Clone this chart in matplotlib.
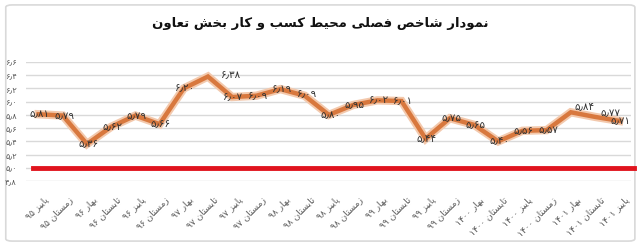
import matplotlib
matplotlib.use('Agg')
import matplotlib.pyplot as plt
from matplotlib.patches import FancyBboxPatch
from matplotlib.transforms import ScaledTranslation


TITLE = 'نمودار شاخص فصلی محیط کسب و کار بخش تعاون'
SEASONS = [
    'پاییز ۹۵', 'زمستان ۹۵', 'بهار ۹۶', 'تابستان ۹۶', 'پاییز ۹۶',
    'زمستان ۹۶', 'بهار ۹۷', 'تابستان ۹۷', 'پاییز ۹۷', 'زمستان ۹۷',
    'بهار ۹۸', 'تابستان ۹۸', 'پاییز ۹۸', 'زمستان ۹۸', 'بهار ۹۹',
    'تابستان ۹۹', 'پاییز ۹۹', 'زمستان ۹۹', 'بهار ۱۴۰۰', 'تابستان ۱۴۰۰',
    'پاییز ۱۴۰۰', 'زمستان ۱۴۰۰', 'بهار ۱۴۰۱', 'تابستان ۱۴۰۱', 'پاییز ۱۴۰۱',
]
INDEX = [
    5.81, 5.79, 5.36, 5.62, 5.79, 5.66, 6.20, 6.38, 6.07, 6.09,
    6.19, 6.09, 5.80, 5.95, 6.02, 6.01, 5.44, 5.75, 5.65, 5.40,
    5.56, 5.57, 5.84, 5.77, 5.71,
]
THRESHOLD = 5.0
Y_TICKS = [4.8, 5.0, 5.2, 5.4, 5.6, 5.8, 6.0, 6.2, 6.4, 6.6]

# (isolated, final, initial, medial) presentation forms
FORMS = {
    'ا': ('\uFE8D', '\uFE8E', None, None),
    'ب': ('\uFE8F', '\uFE90', '\uFE91', '\uFE92'),
    'پ': ('\uFB56', '\uFB57', '\uFB58', '\uFB59'),
    'ت': ('\uFE95', '\uFE96', '\uFE97', '\uFE98'),
    'ح': ('\uFEA1', '\uFEA2', '\uFEA3', '\uFEA4'),
    'خ': ('\uFEA5', '\uFEA6', '\uFEA7', '\uFEA8'),
    'د': ('\uFEA9', '\uFEAA', None, None),
    'ر': ('\uFEAD', '\uFEAE', None, None),
    'ز': ('\uFEAF', '\uFEB0', None, None),
    'س': ('\uFEB1', '\uFEB2', '\uFEB3', '\uFEB4'),
    'ش': ('\uFEB5', '\uFEB6', '\uFEB7', '\uFEB8'),
    'ص': ('\uFEB9', '\uFEBA', '\uFEBB', '\uFEBC'),
    'ط': ('\uFEC1', '\uFEC2', '\uFEC3', '\uFEC4'),
    'ع': ('\uFEC9', '\uFECA', '\uFECB', '\uFECC'),
    'ف': ('\uFED1', '\uFED2', '\uFED3', '\uFED4'),
    'ک': ('\uFB8E', '\uFB8F', '\uFB90', '\uFB91'),
    'ل': ('\uFEDD', '\uFEDE', '\uFEDF', '\uFEE0'),
    'م': ('\uFEE1', '\uFEE2', '\uFEE3', '\uFEE4'),
    'ن': ('\uFEE5', '\uFEE6', '\uFEE7', '\uFEE8'),
    'ه': ('\uFEE9', '\uFEEA', '\uFEEB', '\uFEEC'),
    'و': ('\uFEED', '\uFEEE', None, None),
    'ی': ('\uFBFC', '\uFBFD', '\uFBFE', '\uFBFF'),
}
FA_DIGITS = str.maketrans('0123456789.', '۰۱۲۳۴۵۶۷۸۹٫')


def shape_word(word):
    out = []
    for i, ch in enumerate(word):
        if ch not in FORMS:
            out.append(ch)
            continue
        prev = word[i - 1] if i > 0 else None
        nxt = word[i + 1] if i + 1 < len(word) else None
        join_prev = prev in FORMS and FORMS[prev][2] is not None
        join_next = nxt in FORMS and FORMS[ch][2] is not None
        iso, fin, ini, med = FORMS[ch]
        if join_prev and join_next:
            out.append(med)
        elif join_prev:
            out.append(fin)
        elif join_next:
            out.append(ini)
        else:
            out.append(iso)
    return ''.join(out)


def rtl(text):
    # matplotlib has no bidi / shaping, so lay the words out visually
    vis = []
    for w in reversed(text.split(' ')):
        if any(c in FORMS for c in w):
            vis.append(shape_word(w)[::-1])
        else:
            vis.append(w)
    return ' '.join(vis)


def fa_num(v, fmt):
    return format(v, fmt).translate(FA_DIGITS)


plt.rcParams['font.family'] = ['DejaVu Sans']

fig = plt.figure(figsize=(6.4, 2.46), dpi=100)
fig.patches.append(FancyBboxPatch(
    (0.009, 0.02), 0.983, 0.96, boxstyle='round,pad=0,rounding_size=0.01',
    transform=fig.transFigure, facecolor='white', edgecolor='#d9d9d9',
    linewidth=1.2, zorder=-1))

ax = fig.add_axes([0.0414, 0.264, 0.945, 0.484])
x = list(range(len(INDEX)))
ax.set_xlim(-0.5, len(INDEX) - 0.5)
ax.set_ylim(Y_TICKS[0], Y_TICKS[-1])
ax.set_yticks(Y_TICKS)
ax.yaxis.grid(True, color='#d9d9d9', linewidth=1)
ax.set_axisbelow(True)
for s in ax.spines.values():
    s.set_visible(False)
ax.tick_params(length=0)
ax.set_yticklabels([fa_num(t, '.1f') for t in Y_TICKS],
                   fontsize=6, color='#595959')
ax.tick_params(axis='y', pad=7)

ax.set_xticks(x)
ax.set_xticklabels([rtl(s) for s in SEASONS], rotation=45,
                   rotation_mode='anchor', ha='right', va='center',
                   fontsize=6.5, color='#595959')
shift = ScaledTranslation(6 / 72, -9 / 72, fig.dpi_scale_trans)
for lbl in ax.get_xticklabels():
    lbl.set_transform(lbl.get_transform() + shift)

ax.axhline(THRESHOLD, xmin=0.01, xmax=1.005, color='#e0141e',
           linewidth=3.5, clip_on=False, zorder=3)

ax.plot(x, INDEX, color='#f3c9ad', linewidth=6,
        solid_joinstyle='miter', zorder=4)
ax.plot(x, INDEX, color='#d8783e', linewidth=3.2,
        solid_joinstyle='miter', zorder=5)

# label offsets (points) where Excel moved them off the marker
offsets = {7: (17, 1), 22: (10, 4), 23: (11, 3), 11: (2, 1)}
for i, v in enumerate(INDEX):
    dx, dy = offsets.get(i, (1, 0))
    ax.annotate(fa_num(v, '.2f'), (i, v), xytext=(dx, dy),
                textcoords='offset points', ha='center', va='center',
                fontsize=7.5, color='#333333', zorder=6)

fig.text(0.5, 0.905, rtl(TITLE), ha='center', va='center',
         fontsize=9.5, fontweight='bold', color='#111111')

fig.savefig('out.png', dpi=100)
